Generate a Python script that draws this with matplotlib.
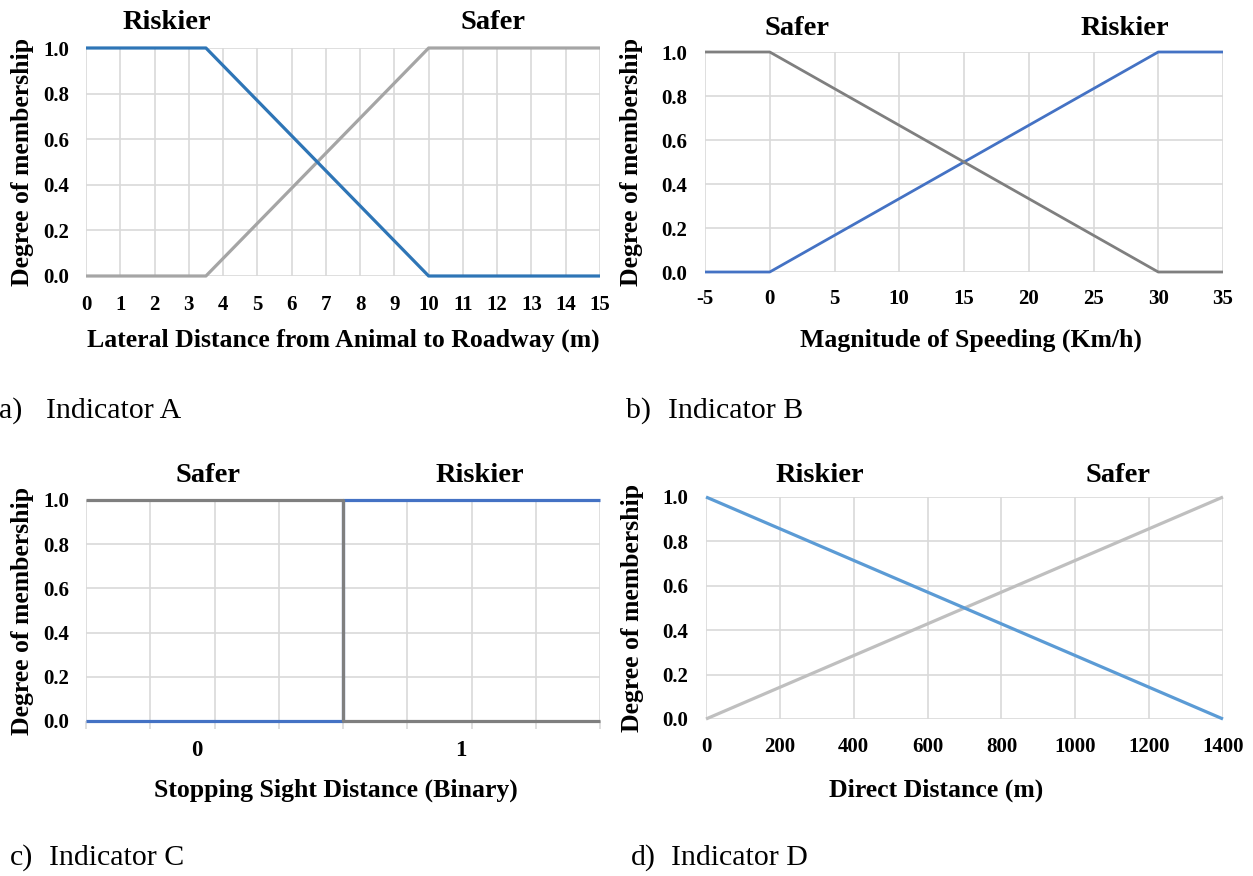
import matplotlib.pyplot as plt
from matplotlib.ticker import MultipleLocator, FormatStrFormatter

plt.rcParams['font.family'] = ['Liberation Serif', 'DejaVu Serif']
plt.rcParams['axes.unicode_minus'] = False

# Indicator A: lateral distance from animal to roadway (m)
lateral_x = [0, 3.5, 10, 15]
lateral_riskier = [1, 1, 0, 0]
lateral_safer = [0, 0, 1, 1]

# Indicator B: magnitude of speeding (km/h)
speed_x = [-5, 0, 30, 35]
speed_safer = [1, 1, 0, 0]
speed_riskier = [0, 0, 1, 1]

# Indicator C: stopping sight distance (binary), two categories of 4 grid cells each
sight_x = [0, 4, 4, 8]
sight_riskier = [0, 0, 1, 1]
sight_safer = [1, 1, 0, 0]
sight_labels = ['0', '1']

# Indicator D: direct distance (m)
direct_x = [0, 1400]
direct_riskier = [1, 0]
direct_safer = [0, 1]

W, H = 1253, 876
LABEL_FS = 18.5
TICK_FS = 15
TAG_FS = 20.5
GRID = '#d9d9d9'


def make_axes(fig, left, top, right, bottom):
    ax = fig.add_axes([left / W, 1 - bottom / H, (right - left) / W, (bottom - top) / H])
    for s in ax.spines.values():
        s.set_visible(False)
    ax.set_ylim(0, 1)
    ax.yaxis.set_major_locator(MultipleLocator(0.2))
    ax.yaxis.set_major_formatter(FormatStrFormatter('%.1f'))
    ax.grid(True, color=GRID, linewidth=1.2)
    ax.set_axisbelow(True)
    ax.tick_params(length=0, labelsize=TICK_FS)
    ax.set_ylabel('Degree of membership', fontsize=LABEL_FS, fontweight='bold', va='center')
    return ax


def style_ticks(ax):
    for lab in ax.get_xticklabels() + ax.get_yticklabels():
        lab.set_fontweight('bold')


fig = plt.figure(figsize=(W / 100, H / 100), dpi=100)

# a) lateral distance
ax = make_axes(fig, 86, 48, 600, 276)
ax.plot(lateral_x, lateral_safer, color='#a5a5a5', lw=2.3, clip_on=False, solid_capstyle='butt')
ax.plot(lateral_x, lateral_riskier, color='#2e75b6', lw=2.3, clip_on=False, solid_capstyle='butt')
ax.set_xlim(0, 15)
ax.xaxis.set_major_locator(MultipleLocator(1))
ax.tick_params(axis='x', pad=14)
ax.tick_params(axis='y', pad=12)
style_ticks(ax)
ax.set_xlabel('Lateral Distance from Animal to Roadway (m)', fontsize=LABEL_FS,
              fontweight='bold', va='center')
ax.xaxis.set_label_coords(0.5, -0.281)
ax.yaxis.set_label_coords(-0.1245, 0.5)
ax.text(0.158, 1.114, 'Riskier', transform=ax.transAxes, ha='center', va='center',
        fontsize=TAG_FS, fontweight='bold')
ax.text(0.792, 1.114, 'Safer', transform=ax.transAxes, ha='center', va='center',
        fontsize=TAG_FS, fontweight='bold')

# b) speeding
ax = make_axes(fig, 705, 52, 1223, 272)
ax.plot(speed_x, speed_riskier, color='#4472c4', lw=2.0, clip_on=False, solid_capstyle='butt')
ax.plot(speed_x, speed_safer, color='#7f7f7f', lw=2.0, clip_on=False, solid_capstyle='butt')
ax.set_xlim(-5, 35)
ax.xaxis.set_major_locator(MultipleLocator(5))
ax.tick_params(axis='x', pad=12)
ax.tick_params(axis='y', pad=13)
style_ticks(ax)
ax.set_xlabel('Magnitude of Speeding (Km/h)', fontsize=LABEL_FS, fontweight='bold', va='center')
ax.xaxis.set_label_coords(0.513, -0.309)
ax.yaxis.set_label_coords(-0.141, 0.5)
ax.text(0.178, 1.109, 'Safer', transform=ax.transAxes, ha='center', va='center',
        fontsize=TAG_FS, fontweight='bold')
ax.text(0.811, 1.109, 'Riskier', transform=ax.transAxes, ha='center', va='center',
        fontsize=TAG_FS, fontweight='bold')

# c) stopping sight distance
ax = make_axes(fig, 86, 500, 600, 721)
ax.plot(sight_x, sight_riskier, color='#4472c4', lw=2.3, clip_on=False, solid_capstyle='butt')
ax.plot(sight_x, sight_safer, color='#7f7f7f', lw=2.3, clip_on=False, solid_capstyle='butt')
ax.set_xlim(0, 8)
ax.xaxis.set_major_locator(MultipleLocator(1))
ax.xaxis.set_major_formatter(plt.NullFormatter())
ax.set_xticks([1.72, 5.84], sight_labels, minor=True)
ax.tick_params(axis='x', which='major', length=6, color=GRID, width=1.2)
ax.tick_params(axis='x', which='minor', length=0, pad=14, labelsize=TICK_FS + 1.5)
ax.tick_params(axis='y', pad=12)
for lab in ax.xaxis.get_minorticklabels():
    lab.set_fontweight('bold')
style_ticks(ax)
ax.set_xlabel('Stopping Sight Distance (Binary)', fontsize=LABEL_FS, fontweight='bold', va='center')
ax.xaxis.set_label_coords(0.487, -0.312)
ax.yaxis.set_label_coords(-0.1245, 0.5)
ax.text(0.237, 1.113, 'Safer', transform=ax.transAxes, ha='center', va='center',
        fontsize=TAG_FS, fontweight='bold')
ax.text(0.767, 1.113, 'Riskier', transform=ax.transAxes, ha='center', va='center',
        fontsize=TAG_FS, fontweight='bold')

# d) direct distance
ax = make_axes(fig, 706, 497, 1223, 719)
ax.plot(direct_x, direct_safer, color='#bfbfbf', lw=2.3, clip_on=False, solid_capstyle='butt')
ax.plot(direct_x, direct_riskier, color='#5b9bd5', lw=2.3, clip_on=False, solid_capstyle='butt')
ax.set_xlim(0, 1400)
ax.xaxis.set_major_locator(MultipleLocator(200))
ax.tick_params(axis='x', pad=13)
ax.tick_params(axis='y', pad=13)
style_ticks(ax)
ax.set_xlabel('Direct Distance (m)', fontsize=LABEL_FS, fontweight='bold', va='center')
ax.xaxis.set_label_coords(0.445, -0.32)
ax.yaxis.set_label_coords(-0.143, 0.5)
ax.text(0.22, 1.095, 'Riskier', transform=ax.transAxes, ha='center', va='center',
        fontsize=TAG_FS, fontweight='bold')
ax.text(0.797, 1.095, 'Safer', transform=ax.transAxes, ha='center', va='center',
        fontsize=TAG_FS, fontweight='bold')

# panel captions
captions = [('a)', 'Indicator A', 22, 46, 411),
            ('b)', 'Indicator B', 651, 668, 411),
            ('c)', 'Indicator C', 33, 49, 858),
            ('d)', 'Indicator D', 656, 671, 858)]
for tag, name, tag_right, name_left, y in captions:
    fig.text(tag_right / W, 1 - y / H, tag, ha='right', va='center', fontsize=21.5)
    fig.text(name_left / W, 1 - y / H, name, ha='left', va='center', fontsize=21.5)

fig.savefig('out.png', dpi=100)
